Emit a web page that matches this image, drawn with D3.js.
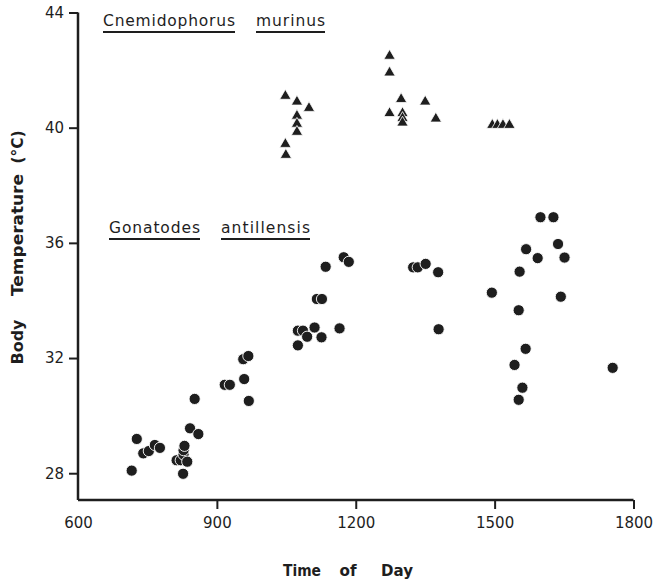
<!DOCTYPE html>
<html>
<head>
<meta charset="utf-8">
<script src="https://cdn.jsdelivr.net/npm/d3@7"></script>
<style>
  body { margin: 0; background: #fff; }
  text { font-family: "DejaVu Sans", sans-serif; fill: #1e1e1e; }
</style>
</head>
<body>
<div id="chart"></div>
<script>
// Cnemidophorus murinus (triangles)
var lizardTime = [1048, 1073, 1099, 1073, 1073, 1073, 1048, 1049,
                  1273, 1273, 1298, 1350, 1273, 1301, 1301, 1301, 1373,
                  1495, 1506, 1518, 1532];
var lizardTemp = [41.1, 40.9, 40.68, 40.41, 40.13, 39.85, 39.43, 39.05,
                  42.49, 41.91, 40.99, 40.9, 40.5, 40.5, 40.33, 40.17, 40.31,
                  40.09, 40.09, 40.09, 40.09];

// Gonatodes antillensis (circles)
var geckoTime = [716, 727, 741, 753, 766, 777,
                 813, 822, 828, 828, 830, 836, 827, 842, 860, 852,
                 917, 928, 959, 969, 957, 968,
                 1075, 1086, 1095, 1111, 1126, 1075, 1165, 1116, 1127, 1135, 1174, 1185,
                 1324, 1334, 1351, 1378, 1379,
                 1494, 1543, 1552, 1552, 1554, 1560, 1567, 1568, 1593, 1599, 1627, 1637, 1643, 1651,
                 1755];
var geckoTemp = [28.09, 29.19, 28.69, 28.77, 28.98, 28.88,
                 28.45, 28.45, 28.65, 28.8, 28.95, 28.4, 27.98, 29.56, 29.36, 30.58,
                 31.07, 31.07, 31.27, 30.51, 31.96, 32.07,
                 32.95, 32.95, 32.74, 33.06, 32.72, 32.44, 33.03, 34.05, 34.05, 35.17, 35.5, 35.34,
                 35.15, 35.15, 35.27, 34.98, 33.0,
                 34.27, 31.76, 33.66, 30.55, 35.0, 30.97, 32.32, 35.78, 35.47, 36.89, 36.89, 35.96, 34.13, 35.49,
                 31.66];

var xTicks = [600, 900, 1200, 1500, 1800];
var yTicks = [28, 32, 36, 40, 44];

function init() {
    var w = 655, h = 582;
    var svg = d3.select("#chart").append("svg")
                .attr("width", w)
                .attr("height", h);

    var x = d3.scaleLinear().domain([600, 1800]).range([78, 633.5]);
    var y = d3.scaleLinear().domain([27.07, 44]).range([500, 12.5]);

    // axes
    var xAxis = svg.append("g")
        .attr("transform", "translate(0,500)")
        .call(d3.axisBottom(x).tickValues(xTicks).tickSize(9).tickPadding(8)
              .tickFormat(d3.format("d")));
    xAxis.selectAll(".tick line").filter(function(d) { return d === 600; }).remove();

    var yAxis = svg.append("g")
        .attr("transform", "translate(78,0)")
        .call(d3.axisLeft(y).tickValues(yTicks).tickSize(9).tickPadding(5));

    [xAxis, yAxis].forEach(function(a) {
        a.select(".domain").attr("stroke", "#1e1e1e").attr("stroke-width", 2.5);
        a.selectAll(".tick line").attr("stroke", "#1e1e1e").attr("stroke-width", 2);
        a.selectAll(".tick text")
            .style("font-family", "DejaVu Sans, sans-serif")
            .style("font-size", "15px")
            .attr("fill", "#1e1e1e");
    });
    // drop the outer tick stubs produced by the domain path
    xAxis.select(".domain").attr("d", "M78,0H" + x(1800));
    yAxis.select(".domain").attr("d", "M0," + y(44) + "V500");

    // points
    var circles = geckoTime.map(function(t, i) { return [t, geckoTemp[i]]; });
    svg.append("g").selectAll("circle")
        .data(circles)
        .enter()
        .append("circle")
        .attr("cx", function(d) { return x(d[0]); })
        .attr("cy", function(d) { return y(d[1]); })
        .attr("r", 5.6)
        .attr("fill", "#1e1e1e")
        .attr("stroke", "#fff")
        .attr("stroke-width", 0.9);

    var tri = d3.symbol().type(d3.symbolTriangle).size(56);
    var triangles = lizardTime.map(function(t, i) { return [t, lizardTemp[i]]; });
    svg.append("g").selectAll("path")
        .data(triangles)
        .enter()
        .append("path")
        .attr("d", tri)
        .attr("transform", function(d) {
            return "translate(" + x(d[0]) + "," + y(d[1]) + ")";
        })
        .attr("fill", "#1e1e1e")
        .attr("stroke", "#fff")
        .attr("stroke-width", 0.8);

    // species labels, each word underlined
    var words = [
        {t: "Cnemidophorus", x: 103, y: 26, len: 132},
        {t: "murinus", x: 256, y: 26, len: 69},
        {t: "Gonatodes", x: 109, y: 233, len: 91},
        {t: "antillensis", x: 221, y: 233, len: 89}
    ];
    words.forEach(function(d) {
        svg.append("text")
            .attr("x", d.x).attr("y", d.y)
            .attr("textLength", d.len)
            .attr("lengthAdjust", "spacing")
            .style("font-size", "15.5px")
            .text(d.t);
        svg.append("line")
            .attr("x1", d.x).attr("x2", d.x + d.len)
            .attr("y1", d.y + 6).attr("y2", d.y + 6)
            .attr("stroke", "#1e1e1e").attr("stroke-width", 2);
    });

    // axis titles
    var xTitle = [
        {t: "Time", c: 302, len: 38},
        {t: "of", c: 348, len: 17},
        {t: "Day", c: 397, len: 32}
    ];
    xTitle.forEach(function(d) {
        svg.append("text")
            .attr("x", d.c - d.len / 2).attr("y", 576)
            .attr("textLength", d.len).attr("lengthAdjust", "spacingAndGlyphs")
            .style("font-size", "16px").style("font-weight", "bold")
            .text(d.t);
    });

    var yTitle = [
        {t: "Body", c: 342, len: 45},
        {t: "Temperature", c: 235, len: 122},
        {t: "(°C)", c: 147, len: 33}
    ];
    yTitle.forEach(function(d) {
        svg.append("text")
            .attr("transform", "translate(23," + (d.c + d.len / 2) + ") rotate(-90)")
            .attr("textLength", d.len).attr("lengthAdjust", "spacingAndGlyphs")
            .style("font-size", "16px").style("font-weight", "bold")
            .text(d.t);
    });
}
window.onload = init;
</script>
</body>
</html>
